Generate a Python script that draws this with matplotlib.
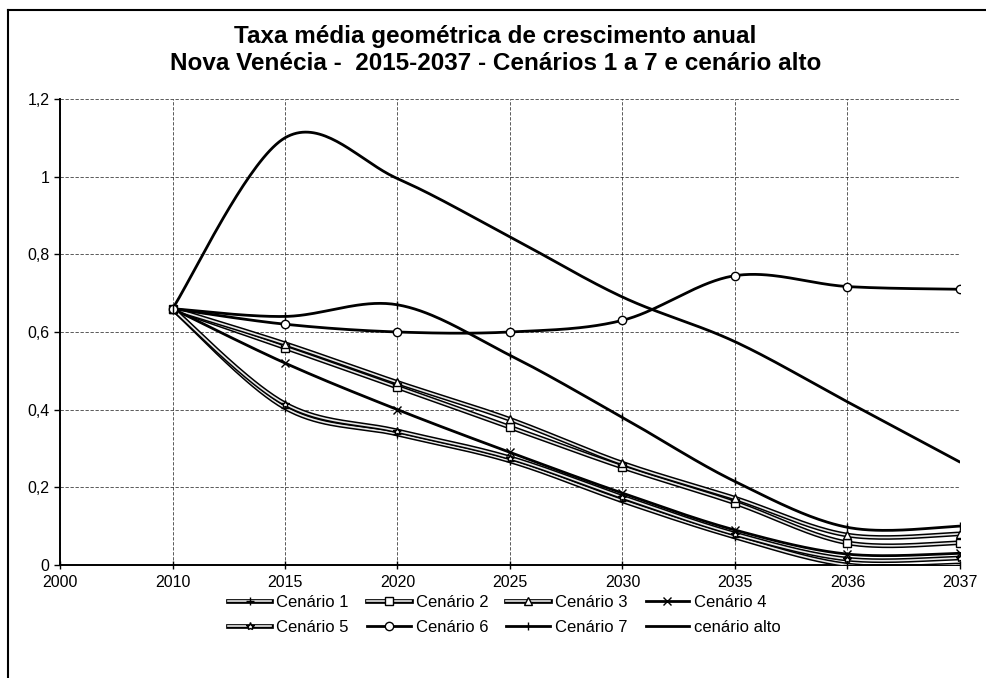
import matplotlib.pyplot as plt
import matplotlib.patheffects as pe
from matplotlib.lines import Line2D
import numpy as np

plt.rcParams['font.family'] = ['Liberation Sans', 'DejaVu Sans']

# eixo de categorias: 2000 fica só como rótulo inicial
anos = ['2000', '2010', '2015', '2020', '2025', '2030', '2035', '2036', '2037']
pos = np.arange(1, 9)

cenario_1 = [0.66, 0.405, 0.337, 0.268, 0.165, 0.072, 0.0, 0.0]
cenario_2 = [0.66, 0.56, 0.458, 0.355, 0.252, 0.16, 0.057, 0.057]
cenario_3 = [0.66, 0.57, 0.47, 0.375, 0.262, 0.172, 0.077, 0.08]
cenario_4 = [0.66, 0.52, 0.40, 0.29, 0.185, 0.09, 0.028, 0.03]
cenario_5 = [0.66, 0.415, 0.345, 0.276, 0.175, 0.08, 0.015, 0.018]
cenario_6 = [0.66, 0.62, 0.60, 0.60, 0.63, 0.745, 0.717, 0.71]
cenario_7 = [0.66, 0.64, 0.67, 0.54, 0.38, 0.215, 0.097, 0.10]
cenario_alto = [0.66, 1.10, 0.995, 0.845, 0.69, 0.575, 0.42, 0.265]

series = [
    ('Cenário 1', cenario_1, '+', True),
    ('Cenário 2', cenario_2, 's', True),
    ('Cenário 3', cenario_3, '^', True),
    ('Cenário 4', cenario_4, 'x', False),
    ('Cenário 5', cenario_5, '*', True),
    ('Cenário 6', cenario_6, 'o', False),
    ('Cenário 7', cenario_7, '|', False),
    ('cenário alto', cenario_alto, None, False),
]


def suavizar(x, y, n=40):
    # curva suave tipo Excel (Bezier com tangentes de Catmull-Rom)
    p = np.column_stack([x, y]).astype(float)
    p = np.vstack([p[0], p, p[-1]])
    xs, ys = [], []
    t = np.linspace(0, 1, n)[:, None]
    for i in range(1, len(p) - 2):
        p0, p1, p2, p3 = p[i - 1], p[i], p[i + 1], p[i + 2]
        c1 = p1 + (p2 - p0) / 6
        c2 = p2 - (p3 - p1) / 6
        b = ((1 - t) ** 3) * p1 + 3 * ((1 - t) ** 2) * t * c1 \
            + 3 * (1 - t) * t ** 2 * c2 + t ** 3 * p2
        xs.extend(b[:, 0])
        ys.extend(b[:, 1])
    return np.array(xs), np.array(ys)


fig = plt.figure(figsize=(9.87, 6.78), dpi=100)
ax = fig.add_axes([0.0608, 0.1667, 0.9118, 0.6873])

vazado = [pe.Stroke(linewidth=3.4, foreground='black'), pe.Normal()]
estilo_marc = dict(ms=6, mfc='white', mec='black', mew=1.0)

handles = []
for nome, valores, marc, oco in series:
    sx, sy = suavizar(pos, valores)
    if oco:
        ax.plot(sx, sy, color='#e8e8e8', lw=1.2, path_effects=vazado,
                solid_capstyle='round', zorder=3)
        linha = Line2D([], [], color='#e8e8e8', lw=1.2, path_effects=vazado)
    else:
        ax.plot(sx, sy, color='black', lw=2.0, solid_capstyle='round', zorder=3)
        linha = Line2D([], [], color='black', lw=2.0)
    if marc:
        ax.plot(pos, valores, ls='none', marker=marc, zorder=4, **estilo_marc)
        handles.append((linha, Line2D([], [], ls='none', marker=marc, **estilo_marc)))
    else:
        handles.append(linha)

ax.set_xlim(0, 8)
ax.set_ylim(0, 1.2)
ax.set_xticks(np.arange(0, 9))
ax.set_xticklabels(anos)
ax.set_yticks(np.arange(0, 1.21, 0.2))
ax.set_yticklabels(['0', '0,2', '0,4', '0,6', '0,8', '1', '1,2'])
ax.tick_params(labelsize=11.5, length=4, width=1, direction='out', colors='black')
ax.tick_params(axis='x', direction='inout', length=6, pad=4)

ax.grid(True, color='black', ls=(0, (4, 2)), lw=0.6, alpha=0.75)
ax.set_axisbelow(True)
for s in ['top', 'right']:
    ax.spines[s].set_visible(False)
for s in ['left', 'bottom']:
    ax.spines[s].set_linewidth(1.4)

fig.text(0.502, 0.946, 'Taxa média geométrica de crescimento anual',
         ha='center', va='center', fontsize=17.5, fontweight='bold')
fig.text(0.502, 0.906, 'Nova Venécia -  2015-2037 - Cenários 1 a 7 e cenário alto',
         ha='center', va='center', fontsize=17.5, fontweight='bold')

# legenda preenchida por linhas (1-4 em cima, 5-alto embaixo)
rotulos = [s[0] for s in series]
ordem = [0, 4, 1, 5, 2, 6, 3, 7]
fig.legend([handles[i] for i in ordem], [rotulos[i] for i in ordem],
           ncol=4, loc='center', bbox_to_anchor=(0.511, 0.093), frameon=False,
           fontsize=12, handlelength=2.6, handletextpad=0.3,
           columnspacing=1.1, labelspacing=0.6)

# moldura do gráfico (lados superior e esquerdo)
fig.add_artist(Line2D([0.008, 1.0], [0.985, 0.985], color='black', lw=1.5))
fig.add_artist(Line2D([0.008, 0.008], [0.0, 0.985], color='black', lw=1.5))

fig.savefig('out.png', dpi=100)
